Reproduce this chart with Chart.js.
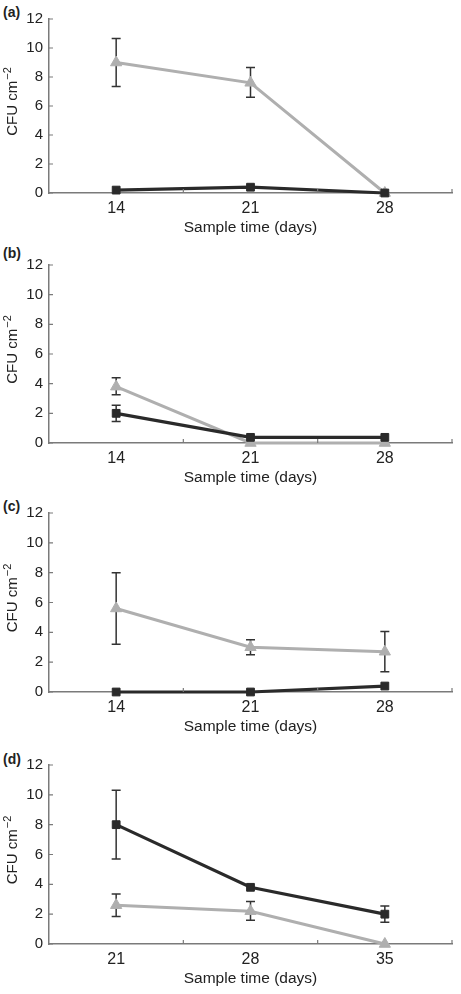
<!DOCTYPE html>
<html>
<head>
<meta charset="utf-8">
<script src="https://cdn.jsdelivr.net/npm/chart.js@4"></script>
<style>
  body { margin: 0; background: #fff; }
  #wrap { position: relative; width: 461px; height: 994px; }
  .panel { position: absolute; left: 0; width: 461px; }
  .tag { position: absolute; left: 3px; font: bold 14px "Liberation Sans", Arial, sans-serif; color: #222; }
</style>
</head>
<body>
<div id="wrap">
  <div class="tag" style="top:4px">(a)</div>
  <div class="tag" style="top:245px">(b)</div>
  <div class="tag" style="top:498px">(c)</div>
  <div class="tag" style="top:751px">(d)</div>
  <div class="panel" id="pa"><canvas id="chartA"></canvas></div>
  <div class="panel" id="pb"><canvas id="chartB"></canvas></div>
  <div class="panel" id="pc"><canvas id="chartC"></canvas></div>
  <div class="panel" id="pd"><canvas id="chartD"></canvas></div>
</div>
<script>
// sample days
const daysABC = ['14', '21', '28'];
const daysD = ['21', '28', '35'];
const yTicks = [0, 2, 4, 6, 8, 10, 12];

// panel (a)
const greyA = [9.0, 7.6, 0];
const greyA_lo = [7.35, 6.6, null];
const greyA_hi = [10.65, 8.65, null];
const blackA = [0.2, 0.4, 0];

// panel (b)
const greyB = [3.8, 0, 0];
const greyB_lo = [3.25, null, null];
const greyB_hi = [4.4, null, null];
const blackB = [2.0, 0.38, 0.38];
const blackB_lo = [1.45, null, null];
const blackB_hi = [2.55, null, null];

// panel (c)
const greyC = [5.6, 3.0, 2.7];
const greyC_lo = [3.2, 2.5, 1.35];
const greyC_hi = [8.0, 3.5, 4.05];
const blackC = [0, 0, 0.4];

// panel (d)
const greyD = [2.6, 2.2, 0];
const greyD_lo = [1.85, 1.6, null];
const greyD_hi = [3.35, 2.85, null];
const blackD = [8.0, 3.8, 2.0];
const blackD_lo = [5.7, null, 1.45];
const blackD_hi = [10.3, null, 2.55];

const FONT = '"Liberation Sans", Arial, sans-serif';
const GREY = '#afafaf';
const BLACK = '#2a2a2a';
const AXIS = '#7a7a7a';
const TEXT = '#222';

// error bars drawn under the markers
const errorBars = {
  id: 'errorBars',
  beforeDatasetsDraw(chart) {
    const ctx = chart.ctx;
    const x = chart.scales.x, y = chart.scales.y;
    ctx.save();
    ctx.strokeStyle = '#333';
    ctx.lineWidth = 1.5;
    chart.data.datasets.forEach(ds => {
      if (!ds.lo) return;
      ds.lo.forEach((lo, i) => {
        const hi = ds.hi[i];
        if (lo == null || hi == null) return;
        const px = x.getPixelForValue(i);
        const y1 = y.getPixelForValue(lo), y2 = y.getPixelForValue(hi);
        ctx.beginPath();
        ctx.moveTo(px, y1); ctx.lineTo(px, y2);
        ctx.moveTo(px - 4.5, y1); ctx.lineTo(px + 4.5, y1);
        ctx.moveTo(px - 4.5, y2); ctx.lineTo(px + 4.5, y2);
        ctx.stroke();
      });
    });
    ctx.restore();
  }
};

// small inward tick marks + y title with a real superscript
const axisExtras = {
  id: 'axisExtras',
  afterDraw(chart) {
    const ctx = chart.ctx;
    const x = chart.scales.x, y = chart.scales.y;
    const area = chart.chartArea;
    ctx.save();
    ctx.strokeStyle = AXIS;
    ctx.lineWidth = 1.2;
    ctx.beginPath();
    y.ticks.forEach(t => {
      const py = y.getPixelForValue(t.value);
      ctx.moveTo(area.left, py); ctx.lineTo(area.left + 4, py);
    });
    const n = chart.data.labels.length;
    for (let i = 0; i < n; i++) {
      const px = i < n - 1 ? (x.getPixelForValue(i) + x.getPixelForValue(i + 1)) / 2 : area.right;
      ctx.moveTo(px, area.bottom); ctx.lineTo(px, area.bottom - 4);
    }
    ctx.stroke();

    // "CFU cm-2" rotated
    const main = 'CFU cm', sup = '\u22122';
    ctx.fillStyle = TEXT;
    ctx.textBaseline = 'middle';
    ctx.textAlign = 'left';
    ctx.font = '15px ' + FONT;
    const w1 = ctx.measureText(main).width;
    ctx.font = '11px ' + FONT;
    const w2 = ctx.measureText(sup).width;
    ctx.translate(13, (area.top + area.bottom) / 2 - 4);
    ctx.rotate(-Math.PI / 2);
    const start = -(w1 + w2) / 2;
    ctx.font = '15px ' + FONT;
    ctx.fillText(main, start, 0);
    ctx.font = '11px ' + FONT;
    ctx.fillText(sup, start + w1 + 1, -5);
    ctx.restore();
  }
};

function makeChart(id, panelId, top, plotH, labels, black, grey) {
  const panel = document.getElementById(panelId);
  const padTop = 15;
  const axisH = 44;
  panel.style.top = (top - padTop) + 'px';
  panel.style.height = (padTop + plotH + axisH) + 'px';
  const ds = (cfg, color, style, radius, lw) => ({
    data: cfg.v,
    lo: cfg.lo,
    hi: cfg.hi,
    borderColor: color,
    backgroundColor: color,
    borderWidth: lw,
    pointStyle: style,
    pointRadius: radius,
    pointBorderWidth: 1,
    pointBorderColor: color,
    pointBackgroundColor: color,
    tension: 0,
    clip: false
  });
  return new Chart(document.getElementById(id), {
    type: 'line',
    data: {
      labels: labels,
      datasets: [
        ds(black, BLACK, 'rect', 5.5, 3.2),
        ds(grey, GREY, 'triangle', 6.5, 3)
      ]
    },
    options: {
      responsive: true,
      maintainAspectRatio: false,
      animation: false,
      events: [],
      layout: { padding: { top: padTop, left: 4, right: 9, bottom: 0 } },
      plugins: { legend: { display: false }, tooltip: { enabled: false } },
      scales: {
        x: {
          type: 'category',
          offset: true,
          grid: { display: true, drawOnChartArea: false, drawTicks: false },
          border: { display: true, color: AXIS, width: 1.5 },
          ticks: { color: TEXT, font: { family: FONT, size: 16 }, padding: 6, maxRotation: 0 },
          title: { display: true, text: 'Sample time (days)', color: TEXT, font: { family: FONT, size: 15.5 }, padding: 0 },
          afterFit(s) { s.height = axisH; }
        },
        y: {
          min: 0, max: 12,
          afterBuildTicks(s) { s.ticks = yTicks.map(v => ({ value: v })); },
          grid: { display: true, drawOnChartArea: false, drawTicks: false },
          border: { display: true, color: AXIS, width: 1.5 },
          ticks: { color: TEXT, font: { family: FONT, size: 15 }, padding: 6 },
          title: { display: false },
          afterFit(s) { s.width = 45; }
        }
      }
    },
    plugins: [errorBars, axisExtras]
  });
}

makeChart('chartA', 'pa', 19, 174, daysABC,
  { v: blackA, lo: null, hi: null },
  { v: greyA, lo: greyA_lo, hi: greyA_hi });
makeChart('chartB', 'pb', 265, 178, daysABC,
  { v: blackB, lo: blackB_lo, hi: blackB_hi },
  { v: greyB, lo: greyB_lo, hi: greyB_hi });
makeChart('chartC', 'pc', 513, 179, daysABC,
  { v: blackC, lo: null, hi: null },
  { v: greyC, lo: greyC_lo, hi: greyC_hi });
makeChart('chartD', 'pd', 765, 179, daysD,
  { v: blackD, lo: blackD_lo, hi: blackD_hi },
  { v: greyD, lo: greyD_lo, hi: greyD_hi });
</script>
</body>
</html>
